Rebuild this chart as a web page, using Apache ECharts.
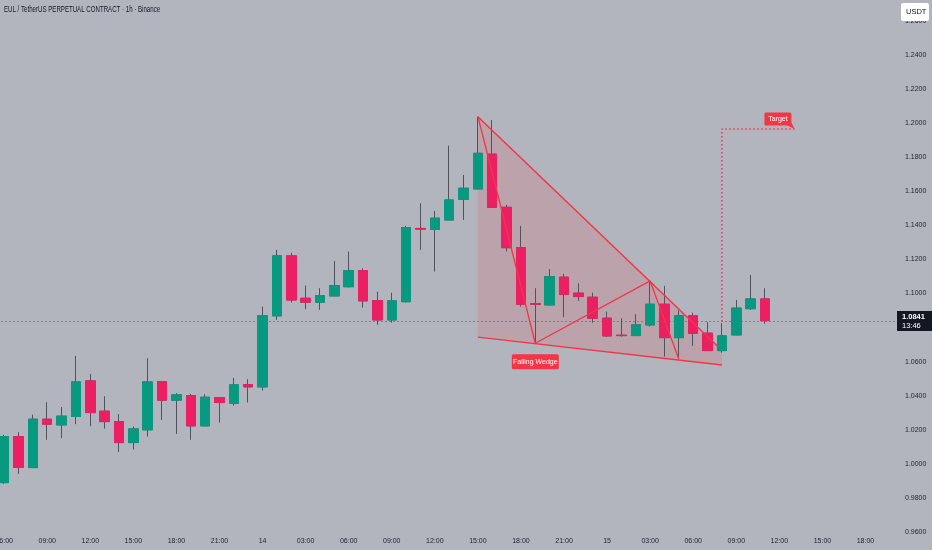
<!DOCTYPE html>
<html><head><meta charset="utf-8">
<script src="https://cdn.jsdelivr.net/npm/echarts@6/dist/echarts.min.js"></script>
<style>html,body{margin:0;padding:0;background:#b2b5be;}#c{width:932px;height:550px;}</style>
</head><body><div id="c"></div>
<script>
// ---- categories: hourly from 13th 06:00 to 15th 19:00 ----
const catDays  = [13, 14, 15];
const firstHour = 6, catCount = 62;
const categories = [];
for (let i = 0; i < catCount; i++) {
  const h = firstHour + i;
  categories.push(catDays[Math.floor(h / 24)] + '|' + String(h % 24).padStart(2, '0'));
}
// ---- OHLC values (1h candles) ----
const opens  = [0.9890,1.0160,0.9978,1.0262,1.0229,1.0278,1.0487,1.0309,1.0248,1.0125,1.0200,1.0483,1.0374,1.0401,1.0223,1.0389,1.0356,1.0465,1.0452,1.0869,1.1221,1.0972,1.0949,1.0986,1.1040,1.1134,1.0958,1.0845,1.0952,1.1382,1.1377,1.1432,1.1553,1.1614,1.1818,1.1506,1.1269,1.0940,1.0933,1.1096,1.1002,1.0978,1.0855,1.0755,1.0753,1.0816,1.0937,1.0741,1.0869,1.0767,1.0665,1.0757,1.0911,1.0968];
const highs  = [1.0170,1.0186,1.0289,1.0362,1.0333,1.0634,1.0528,1.0397,1.0292,1.0219,1.0620,1.0486,1.0415,1.0411,1.0409,1.0390,1.0505,1.0497,1.0923,1.1256,1.1240,1.1046,1.1031,1.1191,1.1246,1.1148,1.1011,1.1005,1.1397,1.1530,1.1485,1.1868,1.1696,1.2038,1.2019,1.1520,1.1397,1.1031,1.1143,1.1115,1.1060,1.1005,1.0894,1.0855,1.0878,1.1074,1.1045,1.0900,1.0888,1.0832,1.0826,1.0962,1.1109,1.1031];
const lows   = [0.9883,0.9941,0.9978,1.0141,1.0151,1.0233,1.0221,1.0207,1.0069,1.0084,1.0160,1.0258,1.0176,1.0141,1.0223,1.0242,1.0342,1.0360,1.0430,1.0845,1.0947,1.0908,1.0904,1.0984,1.1035,1.0917,1.0816,1.0829,1.0947,1.1256,1.1129,1.1430,1.1432,1.1612,1.1504,1.1246,1.0923,1.0708,1.0931,1.0861,1.0957,1.0829,1.0744,1.0747,1.0751,1.0806,1.0630,1.0614,1.0692,1.0663,1.0653,1.0755,1.0904,1.0822];
const closes = [1.0160,0.9980,1.0262,1.0233,1.0280,1.0481,1.0301,1.0248,1.0125,1.0205,1.0481,1.0374,1.0405,1.0223,1.0391,1.0360,1.0464,1.0452,1.0869,1.1221,1.0962,1.0949,1.0988,1.1046,1.1134,1.0957,1.0845,1.0957,1.1387,1.1378,1.1442,1.1549,1.1618,1.1823,1.1506,1.1269,1.0937,1.0937,1.1099,1.0994,1.0982,1.0855,1.0751,1.0753,1.0816,1.0937,1.0741,1.0869,1.0767,1.0665,1.0751,1.0914,1.0968,1.0841];
const lastPrice = 1.0841, lastCountdown = '13:46';
// ---- y axis ticks ----
const yMin = 0.96, yMax = 1.2723, yStep = 0.02;
// ---- drawing annotations (x = candle index, y = price) ----
const wedgeFillX = [33, 49.7, 50, 50, 33];
const wedgeFillY = [1.2038, 1.0690, 1.0667, 1.0581, 1.0744];
const upperLineX = [33, 49.7], upperLineY = [1.2038, 1.0690];
const lowerLineX = [33, 50],   lowerLineY = [1.0744, 1.0581];
const zigzagX = [33, 33.65, 37, 45, 47];
const zigzagY = [1.2038, 1.1825, 1.0708, 1.1074, 1.0614];
const targetX = [50, 50, 55.06], targetY = [1.0835, 1.1966, 1.1966];
const labelTexts = ['Falling Wedge', 'Target'];
const labelX = [37, 53.9], labelY = [1.0599, 1.2025];

const RED = '#f23645', UP = '#089981', DOWN = '#eb1f62', WICK = '#50535e';
const FONT = '"Liberation Sans Narrow", "Liberation Sans", Arial, sans-serif';

const wickData = opens.map((o, i) => [o, closes[i], lows[i], highs[i]]);
const bodyData = opens.map((o, i) => [o, closes[i], Math.min(o, closes[i]), Math.max(o, closes[i])]);
const pairs = (xs, ys) => xs.map((x, i) => [x, ys[i]]);

const chart = echarts.init(document.getElementById('c'), null, {renderer: 'canvas'});
chart.setOption({
  animation: false,
  backgroundColor: '#b2b5be',
  grid: {left: -3, right: 45, top: 0, bottom: 18, containLabel: false, outerBoundsMode: 'none'},
  xAxis: [{
    type: 'category', data: categories, boundaryGap: true,
    axisLine: {show: false}, axisTick: {show: false}, splitLine: {show: false},
    axisLabel: {
      interval: (idx, val) => parseInt(val.split('|')[1], 10) % 3 === 0,
      formatter: val => { const p = val.split('|'); return p[1] === '00' ? p[0] : p[1] + ':00'; },
      color: '#1e222d', fontSize: 7, fontFamily: FONT, margin: 6
    }
  }, {
    type: 'value', min: -0.5, max: catCount - 0.5, show: false
  }],
  yAxis: {
    type: 'value', position: 'right', min: yMin, max: yMax, interval: yStep, scale: true,
    axisLine: {show: false}, axisTick: {show: false}, splitLine: {show: false},
    axisLabel: {showMaxLabel: false, showMinLabel: true, formatter: v => v.toFixed(4),
      color: '#1e222d', fontSize: 7, fontFamily: FONT, margin: 18}
  },
  series: [
    {
      type: 'custom', xAxisIndex: 1, silent: true, z: 1,
      data: [0],
      renderItem: (params, api) => ({
        type: 'polygon',
        shape: {points: wedgeFillX.map((x, i) => api.coord([x, wedgeFillY[i]]))},
        style: {fill: 'rgba(242,54,69,0.15)'}
      })
    },
    {
      type: 'custom', xAxisIndex: 1, silent: true, z: 1, clip: false,
      data: [[catCount - 0.5, lastPrice]],
      renderItem: (params, api) => {
        const r = api.coord([api.value(0), api.value(1)]);
        const l = api.coord([-0.5, api.value(1)]);
        const y = Math.round(r[1]) + 0.5;
        return {type: 'group', children: [
          {type: 'line', shape: {x1: l[0], y1: y, x2: r[0] + 10, y2: y},
            style: {stroke: '#7f828b', lineWidth: 1, lineDash: [2, 2]}},
          {type: 'rect', shape: {x: r[0] + 10, y: y - 10.5, width: 36, height: 20}, style: {fill: '#131722'}},
          {type: 'text', style: {text: lastPrice.toFixed(4), x: r[0] + 15, y: y - 5, verticalAlign: 'middle',
            fill: '#fff', fontSize: 7.5, fontWeight: 'bold', fontFamily: FONT}},
          {type: 'text', style: {text: lastCountdown, x: r[0] + 15, y: y + 4, verticalAlign: 'middle',
            fill: '#fff', fontSize: 7.5, fontFamily: FONT}}
        ]};
      }
    },
    {
      type: 'candlestick', data: wickData, barWidth: 10, silent: true, z: 2,
      itemStyle: {color: 'transparent', color0: 'transparent', borderColor: WICK, borderColor0: WICK, borderWidth: 1}
    },
    {
      type: 'candlestick', data: bodyData, barWidth: 10, silent: true, z: 3,
      itemStyle: {color: UP, color0: DOWN, borderColor: UP, borderColor0: DOWN, borderWidth: 1}
    },
    {type: 'line', xAxisIndex: 1, data: pairs(upperLineX, upperLineY), showSymbol: false, silent: true, z: 4,
      lineStyle: {color: RED, width: 1.5}},
    {type: 'line', xAxisIndex: 1, data: pairs(lowerLineX, lowerLineY), showSymbol: false, silent: true, z: 4,
      lineStyle: {color: RED, width: 1.5}},
    {type: 'line', xAxisIndex: 1, data: pairs(zigzagX, zigzagY), showSymbol: false, silent: true, z: 4,
      lineStyle: {color: RED, width: 1.3}},
    {type: 'line', xAxisIndex: 1, data: pairs(targetX, targetY), showSymbol: false, silent: true, z: 4,
      lineStyle: {color: RED, width: 1.5, type: [1.5, 2.5]}},
    {
      type: 'custom', xAxisIndex: 1, silent: true, z: 5,
      data: labelTexts.map((t, i) => [labelX[i], labelY[i], i]),
      renderItem: (params, api) => {
        const i = api.value(2);
        const c = api.coord([api.value(0), api.value(1)]);
        const w = i === 0 ? 47 : 27, h = i === 0 ? 15 : 13;
        const children = [
          {type: 'rect', shape: {x: c[0] - w / 2, y: c[1] - h / 2, width: w, height: h, r: 1.5}, style: {fill: RED}},
          {type: 'text', style: {text: labelTexts[i], x: c[0], y: c[1], align: 'center', verticalAlign: 'middle',
            fill: '#fff', fontSize: 7, fontFamily: FONT}}
        ];
        if (i === 1) {
          const t = api.coord([targetX[2], targetY[2]]);
          children.push({type: 'polygon', shape: {points: [[c[0] + w / 2 - 4, c[1] + h / 2], [c[0] + w / 2, c[1] + h / 2 - 3], [t[0], t[1]]]}, style: {fill: RED}});
        }
        return {type: 'group', children};
      }
    }
  ],
  graphic: [
    {type: 'text', left: 4, top: 5, z: 10, scaleX: 0.72, style: {text: 'EUL / TetherUS PERPETUAL CONTRACT · 1h · Binance',
      fill: '#131722', fontSize: 8.5, fontFamily: FONT}},
    {type: 'rect', left: 901, top: 3, z: 10, shape: {width: 28, height: 18, r: 2}, style: {fill: '#ffffff'}},
    {type: 'text', left: 906, top: 8, z: 11, style: {text: 'USDT', fill: '#131722', fontSize: 7.5, fontFamily: FONT}}
  ]
});
</script></body></html>
